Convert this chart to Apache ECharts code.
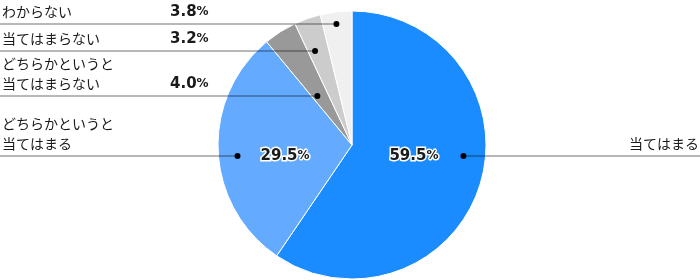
<!DOCTYPE html>
<html><head><meta charset="utf-8">
<script src="https://cdn.jsdelivr.net/npm/echarts@6/dist/echarts.min.js"></script>
<style>html,body{margin:0;padding:0;background:#fff}#c{width:700px;height:280px}</style>
</head><body><div id="c"></div>
<script>
const categories = ['当てはまる','どちらかというと\n当てはまる','どちらかというと\n当てはまらない','当てはまらない','わからない'];
const values = [59.5, 29.5, 4.0, 3.2, 3.8];
const colors = ['#1a8cff','#64aaff','#999999','#cccccc','#f0f0f0'];

// layout (positions only)
const CX = 352, CY = 145, RADIUS = 134;
const lineY = [156, 156, 96, 51, 24];
const dotR = [112, 115, 60, 101, 122];
const side = [1, -1, -1, -1, -1];
const inside = [true, true, false, false, false];

function dotPos(i) {
  const dy = lineY[i] - CY;
  return [CX + side[i] * Math.sqrt(dotR[i] * dotR[i] - dy * dy), lineY[i]];
}

const TXT = '#1a1a1a';
const CJK = 'Noto Sans CJK JP';
const richOuter = {
  n: { fontFamily: CJK, fontSize: 14, color: TXT, width: 168, lineHeight: 20 },
  r: { fontFamily: CJK, fontSize: 14, color: TXT, lineHeight: 20 },
  p: { fontFamily: 'DejaVu Sans', fontWeight: 'bold', fontSize: 15, color: TXT, lineHeight: 20 },
  u: { fontFamily: 'DejaVu Sans', fontWeight: 'bold', fontSize: 12, color: TXT, lineHeight: 20 }
};
const richInner = {
  p: { fontFamily: 'DejaVu Sans', fontWeight: 'bold', fontSize: 15, color: TXT, textBorderColor: '#fff', textBorderWidth: 3, lineHeight: 20 },
  u: { fontFamily: 'DejaVu Sans', fontWeight: 'bold', fontSize: 12, color: TXT, textBorderColor: '#fff', textBorderWidth: 3, lineHeight: 20 }
};

const dataSlices = categories.map((c, i) => ({ name: c, value: values[i], itemStyle: { color: colors[i] }, label: { show: inside[i] } }));
const dataOverlay = categories.map((c, i) => ({ name: c, value: values[i] }));

const chart = echarts.init(document.getElementById('c'), null, { renderer: 'canvas' });
chart.setOption({
  animation: false,
  series: [
    {
      type: 'pie',
      z: 2,
      center: [CX, CY],
      radius: RADIUS,
      startAngle: 90,
      clockwise: true,
      silent: true,
      avoidLabelOverlap: false,
      itemStyle: { borderColor: '#fff', borderWidth: 1 },
      label: {
        position: 'inside',
        rich: richInner,
        formatter: function (p) { return '{p|' + values[p.dataIndex].toFixed(1) + '}{u|%}'; }
      },
      labelLine: { show: false },
      labelLayout: function (params) {
        const i = params.dataIndex;
        const d = dotPos(i);
        if (side[i] > 0) return { x: d[0] - 25, y: lineY[i], align: 'right', verticalAlign: 'middle' };
        return { x: d[0] + 23, y: lineY[i], align: 'left', verticalAlign: 'middle' };
      },
      data: dataSlices
    },
    {
      type: 'pie',
      z: 3,
      center: [CX, CY],
      radius: RADIUS,
      startAngle: 90,
      clockwise: true,
      silent: true,
      avoidLabelOverlap: false,
      itemStyle: { color: 'rgba(0,0,0,0)', borderWidth: 0 },
      label: {
        show: true,
        position: 'outside',
        rich: richOuter,
        formatter: function (p) {
          const i = p.dataIndex;
          const lines = p.name.split('\n');
          if (side[i] > 0) return '{r|' + lines.join('') + '}';
          return lines.map((l, k) => {
            let s = '{n|' + l + '}';
            if (k === lines.length - 1 && !inside[i]) s += '{p|' + values[i].toFixed(1) + '}{u|%}';
            return s;
          }).join('\n');
        }
      },
      labelLine: { show: true, smooth: false, lineStyle: { color: 'rgba(0,0,0,0.28)', width: 2 } },
      labelLayout: function (params) {
        const i = params.dataIndex;
        const d = dotPos(i);
        if (side[i] > 0) {
          return { x: 699, y: lineY[i] - 2, align: 'right', verticalAlign: 'bottom',
            labelLinePoints: [d, [d[0] + 1, d[1]], [700, d[1]]] };
        }
        return { x: 2, y: lineY[i] - 2, align: 'left', verticalAlign: 'bottom',
          labelLinePoints: [d, [d[0] - 1, d[1]], [0, d[1]]] };
      },
      data: dataOverlay
    }
  ],
  graphic: categories.map((c, i) => {
    const d = dotPos(i);
    return { type: 'circle', z: 100, shape: { cx: d[0], cy: d[1], r: 3 }, style: { fill: '#000' } };
  })
});
</script></body></html>
